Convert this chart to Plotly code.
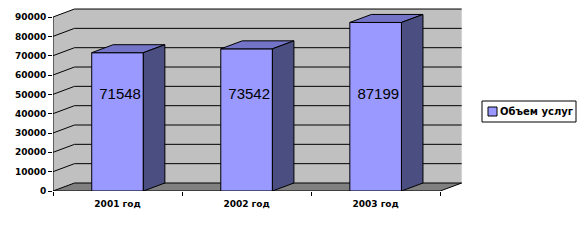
import plotly.graph_objects as go

# ---- data ----
categories = ["2001 год", "2002 год", "2003 год"]
values = [71548, 73542, 87199]
series_name = "Объем услуг"
y_ticks = [0, 10000, 20000, 30000, 40000, 50000, 60000, 70000, 80000, 90000]

# ---- style / geometry ----
W, H = 586, 244
ML, MB, MT = 53, 53, 7
PW, PH = 413, 184
x_min, x_max = -0.5, 2.7
y_max_axis = 95188
bar_w = 0.4
dx = 0.1667     # depth offset (category units)
dy = 4139       # depth offset (value units)
y_top = y_ticks[-1]
label_y = 49500

front_col = "#9999FF"
top_col = "#7373C8"
side_col = "#4A4E80"
wall_col = "#C0C0C0"
floor_col = "#808080"

n = len(categories)
xs = list(range(n))
x_lo, x_hi = -0.5, n - 0.5


def px_x(p):
    return (p - ML) / PW


def px_y(p):
    return (MT + PH - p) / PH


fig = go.Figure()

# walls (left side + back)
fig.add_trace(go.Scatter(
    x=[x_lo, x_lo, x_lo + dx, x_hi + dx, x_hi + dx, x_lo + dx, x_lo],
    y=[0, y_top, y_top + dy, y_top + dy, dy, dy, 0],
    fill="toself", fillcolor=wall_col, mode="none",
    hoverinfo="skip", showlegend=False))
# floor
fig.add_trace(go.Scatter(
    x=[x_lo, x_hi, x_hi + dx, x_lo + dx, x_lo],
    y=[0, 0, dy, dy, 0],
    fill="toself", fillcolor=floor_col, mode="none",
    hoverinfo="skip", showlegend=False))
# gridlines
gx, gy = [], []
for v in y_ticks:
    gx += [x_lo, x_lo + dx, x_hi + dx, None]
    gy += [v, v + dy, v + dy, None]
fig.add_trace(go.Scatter(x=gx, y=gy, mode="lines",
                         line=dict(color="black", width=1),
                         hoverinfo="skip", showlegend=False))
# front axis lines + floor right edge
fig.add_trace(go.Scatter(
    x=[x_lo, x_lo, None, x_lo, x_hi, x_hi + dx],
    y=[y_top, 0, None, 0, 0, dy],
    mode="lines", line=dict(color="black", width=1),
    hoverinfo="skip", showlegend=False))

# bars front (overlay axes so they are above walls)
fig.add_trace(go.Bar(
    x=xs, y=values, width=bar_w, name=series_name,
    marker=dict(color=front_col, line=dict(color="black", width=1)),
    xaxis="x2", yaxis="y2", showlegend=False))

# top and side faces
for i, v in zip(xs, values):
    l, r = i - bar_w / 2, i + bar_w / 2
    fig.add_trace(go.Scatter(
        x=[l, r, r + dx, l + dx, l], y=[v, v, v + dy, v + dy, v],
        fill="toself", fillcolor=top_col, mode="lines",
        line=dict(color="black", width=1),
        xaxis="x2", yaxis="y2", hoverinfo="skip", showlegend=False))
    fig.add_trace(go.Scatter(
        x=[r, r, r + dx, r + dx, r], y=[0, v, v + dy, dy, 0],
        fill="toself", fillcolor=side_col, mode="lines",
        line=dict(color="black", width=1),
        xaxis="x2", yaxis="y2", hoverinfo="skip", showlegend=False))

# data labels
fig.add_trace(go.Scatter(
    x=[i + 0.02 for i in xs], y=[label_y] * n,
    text=[str(v) for v in values], mode="text",
    textfont=dict(family="Liberation Sans", size=15, color="black"),
    xaxis="x2", yaxis="y2", hoverinfo="skip", showlegend=False))

tickfont = dict(family="DejaVu Sans", size=9, color="black", weight="bold")

# legend (box, swatch, text)
shapes = [
    dict(type="rect", xref="paper", yref="paper",
         x0=px_x(482), x1=px_x(576), y0=px_y(122), y1=px_y(101),
         line=dict(color="black", width=1), fillcolor="white", layer="above"),
    dict(type="rect", xref="paper", yref="paper",
         x0=px_x(488), x1=px_x(497), y0=px_y(116), y1=px_y(107),
         line=dict(color="black", width=1), fillcolor=front_col, layer="above"),
]
annotations = [
    dict(xref="paper", yref="paper", x=px_x(498), y=px_y(111.5),
         xanchor="left", yanchor="middle", showarrow=False,
         text="<b>" + series_name + "</b>",
         font=dict(family="DejaVu Sans", size=10, color="black")),
]

fig.update_layout(
    width=W, height=H,
    margin=dict(l=ML, r=W - ML - PW, t=MT, b=H - MT - PH, pad=0, autoexpand=False),
    paper_bgcolor="white", plot_bgcolor="white",
    xaxis=dict(range=[x_min, x_max], showgrid=False, zeroline=False,
               showline=False, tickmode="array", tickvals=xs,
               ticktext=categories, ticks="", tickfont=tickfont,
               ticklabelstandoff=6,
               minor=dict(tickmode="array", tickvals=[x_lo + k for k in range(n + 1)],
                          ticks="outside", ticklen=4, tickcolor="black",
                          tickwidth=1, showgrid=False)),
    yaxis=dict(range=[0, y_max_axis], showgrid=False, zeroline=False,
               showline=False, tickmode="array", tickvals=y_ticks,
               ticktext=[str(t) for t in y_ticks], ticks="outside",
               ticklen=4, tickcolor="black", tickwidth=1, tickfont=tickfont),
    xaxis2=dict(range=[x_min, x_max], overlaying="x", visible=False),
    yaxis2=dict(range=[0, y_max_axis], overlaying="y", visible=False),
    shapes=shapes,
    annotations=annotations,
    showlegend=False,
)

fig.write_html("out.html")
